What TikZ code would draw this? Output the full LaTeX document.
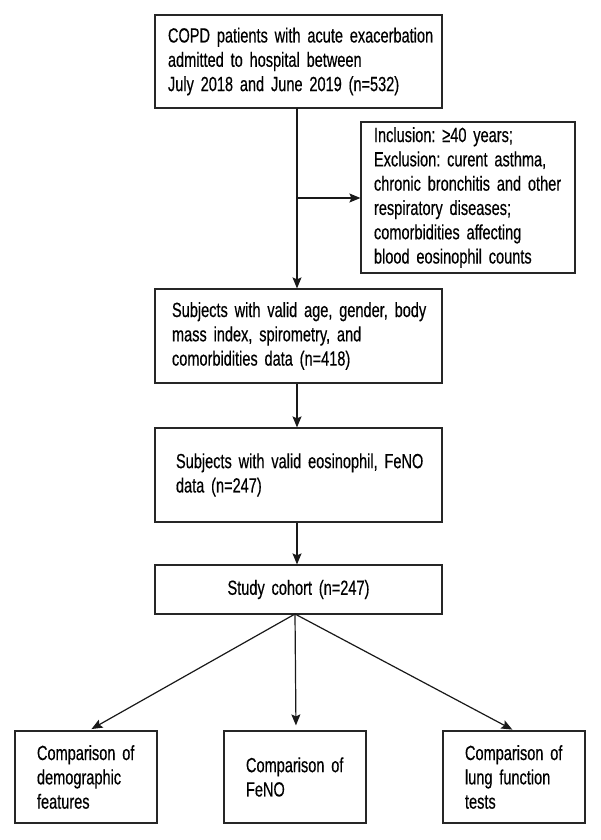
\documentclass[tikz,border=0pt]{standalone}
\usepackage{fontspec}
\setmainfont{Liberation Sans}[FakeStretch=0.71,FakeBold=0.4]
\usetikzlibrary{arrows.meta}
\newcommand{\ml}[1]{\mbox{#1}}
\begin{document}
\begin{tikzpicture}[x=1pt,y=-1pt,
  box/.style={draw=black!85, line width=1.2pt, rectangle, inner ysep=0pt,
    align=left, font=\fontsize{20.5}{24.3}\selectfont\frenchspacing},
  arr/.style={line width=1.2pt, draw=black!90,
    -{Stealth[length=11pt,width=9pt,inset=2pt]}}
]
\useasboundingbox (0,0) rectangle (600,840);
\fill[white] (0,0) rectangle (600,840);

\node[box, inner xsep=13pt, text width=261pt, minimum height=93pt] (b1) at (298.5,61.5)
  {\ml{COPD patients with acute exacerbation}\\\ml{admitted to hospital between}\\\ml{July 2018 and June 2019 (n=532)}};
\node[box, inner xsep=13pt, text width=188pt, minimum height=151pt] (side) at (468,197.5)
  {\ml{Inclusion: ≥40 years;}\\\ml{Exclusion: curent asthma,}\\\ml{chronic bronchitis and other}\\\ml{respiratory diseases;}\\\ml{comorbidities affecting}\\\ml{blood eosinophil counts}};
\node[box, inner xsep=17pt, text width=253pt, minimum height=94pt] (b3) at (298.5,336)
  {\ml{Subjects with valid age, gender, body}\\\ml{mass index, spirometry, and}\\\ml{comorbidities data (n=418)}};
\node[box, inner xsep=21pt, text width=245pt, minimum height=94pt] (b4) at (298.5,475)
  {\ml{Subjects with valid eosinophil, FeNO}\\\ml{data (n=247)}};
\node[box, inner xsep=0pt, text width=287pt, align=center, minimum height=49pt] (b5) at (298.5,589.5)
  {Study cohort (n=247)};
\node[box, inner xsep=22pt, text width=98pt, minimum height=92pt] (c1) at (86,777)
  {\ml{Comparison of}\\\ml{demographic}\\\ml{features}};
\node[box, inner xsep=22pt, text width=98pt, minimum height=92pt] (c2) at (295,777)
  {\ml{Comparison of}\\\ml{FeNO}};
\node[box, inner xsep=22pt, text width=98pt, minimum height=92pt] (c3) at (514,777)
  {\ml{Comparison of}\\\ml{lung function}\\\ml{tests}};

\coordinate (top) at (297,108);
\coordinate (split) at (297,198);
\coordinate (fan) at (295,614);

\draw[arr] (top) -- (b3.north -| top);
\draw[arr] (split) -- (side.west |- split);
\draw[arr] (b3.south -| top) -- (b4.north -| top);
\draw[arr] (b4.south -| top) -- (b5.north -| top);
\draw[arr, shorten >=4pt] (fan) -- (88,731);
\draw[arr, shorten >=5pt] (fan) -- (c2.north -| 296,0);
\draw[arr, shorten >=3pt] (fan) -- (515,731);
\end{tikzpicture}
\end{document}
